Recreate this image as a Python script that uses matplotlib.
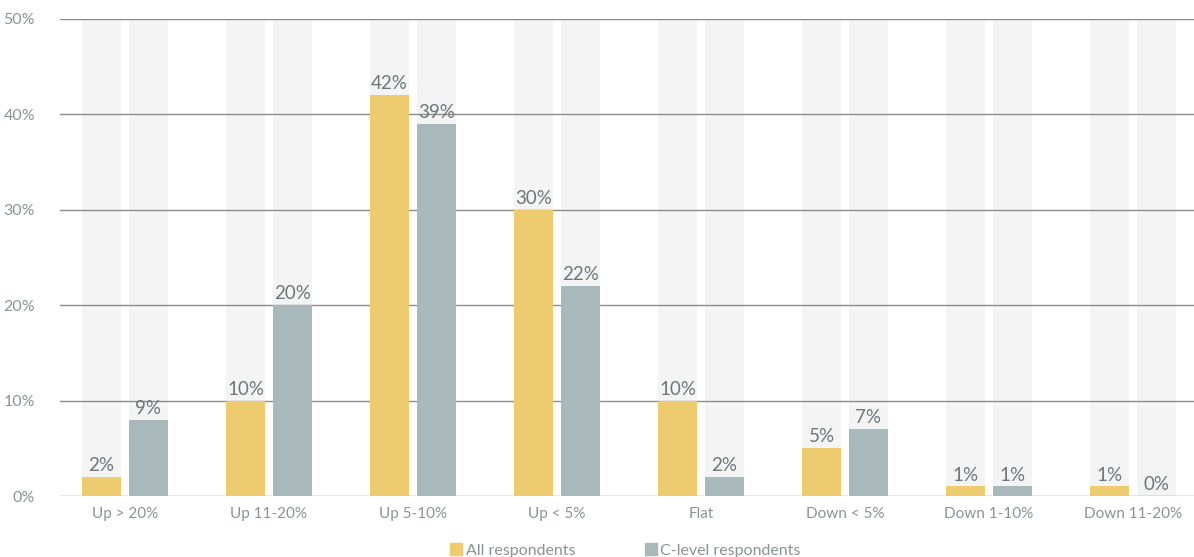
import matplotlib.pyplot as plt
import numpy as np
from matplotlib.lines import Line2D

plt.rcParams['font.family'] = ['Lato', 'DejaVu Sans']

categories = ['Up > 20%', 'Up 11-20%', 'Up 5-10%', 'Up < 5%', 'Flat',
              'Down < 5%', 'Down 1-10%', 'Down 11-20%']
all_resp = [2, 10, 42, 30, 10, 5, 1, 1]
all_labels = ['2%', '10%', '42%', '30%', '10%', '5%', '1%', '1%']
c_level = [8, 20, 39, 22, 2, 7, 1, 0]
c_labels = ['9%', '20%', '39%', '22%', '2%', '7%', '1%', '0%']

yellow = '#eecb6f'
grey = '#a8b8bb'
label_col = '#6b7778'
tick_col = '#8a9495'

fig = plt.figure(figsize=(11.94, 5.57), dpi=100)
ax = fig.add_axes([60 / 1194, 61 / 557, 1134 / 1194, 477 / 557])

x = np.arange(len(categories))
w = 0.271
off = 0.163

# light background columns
ax.bar(x - off, [50] * len(x), w, color='#f4f4f4', zorder=0)
ax.bar(x + off, [50] * len(x), w, color='#f4f4f4', zorder=0)

for y in range(0, 51, 10):
    ax.axhline(y, color='#8c8c8c', lw=1, zorder=1)

ax.bar(x - off, all_resp, w, color=yellow, zorder=2)
ax.bar(x + off, c_level, w, color=grey, zorder=2)

for i in range(len(x)):
    ax.text(x[i] - off, all_resp[i] + 0.3, all_labels[i], ha='center', va='bottom',
            fontsize=13.5, color=label_col, zorder=3)
    ax.text(x[i] + off, c_level[i] + 0.3, c_labels[i], ha='center', va='bottom',
            fontsize=13.5, color=label_col, zorder=3)

ax.set_xlim(-0.451, 7.424)
ax.set_ylim(0, 50)
ax.set_yticks(range(0, 51, 10))
ax.set_yticklabels([f'{v}%' for v in range(0, 51, 10)], fontsize=11.5, color=tick_col)
ax.set_xticks(x)
ax.set_xticklabels(categories, fontsize=11, color=tick_col)
ax.tick_params(length=0, pad=8)
ax.tick_params(axis='y', pad=18)
for s in ax.spines.values():
    s.set_visible(False)

handles = [Line2D([], [], marker='s', ls='', color=yellow, markersize=9),
           Line2D([], [], marker='s', ls='', color=grey, markersize=9)]
leg = fig.legend(handles, ['All respondents', 'C-level respondents'], loc='lower center',
                 bbox_to_anchor=(0.523, -0.027), ncol=2, frameon=False, fontsize=11.5,
                 handletextpad=0.1, columnspacing=4.2, handlelength=1)
for t in leg.get_texts():
    t.set_color(tick_col)

fig.savefig('out.png', dpi=100)
